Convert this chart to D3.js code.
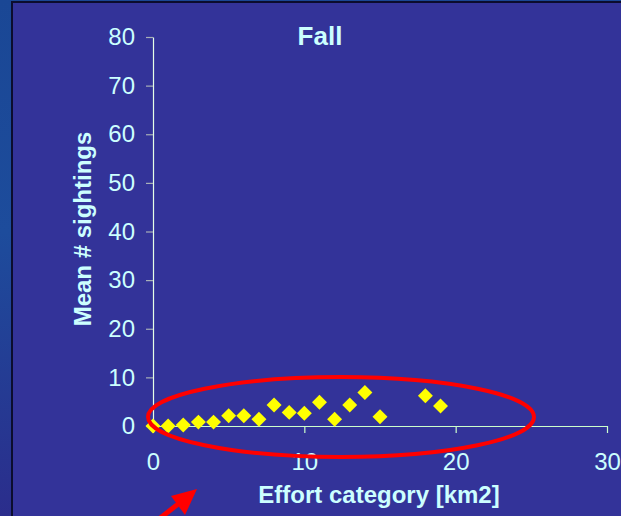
<!DOCTYPE html>
<html>
<head>
<meta charset="utf-8">
<script src="https://cdn.jsdelivr.net/npm/d3@7"></script>
<style>
  body { margin: 0; background: #1a4795; }
  svg { display: block; font-family: Arial, "Liberation Sans", sans-serif; }
</style>
</head>
<body>
<svg width="621" height="516"></svg>
<script>
// effort category (km2) and mean sightings, fall
var effort = [0, 1, 2, 3, 4, 5, 6, 7, 8, 9, 10, 11, 12, 13, 14, 15, 18, 19];
var meanSightings = [0, 0, 0.2, 0.8, 0.8, 2.1, 2.1, 1.4, 4.3, 2.8, 2.6, 4.9, 1.4, 4.3, 6.9, 1.9, 6.2, 4.1];
var xTicks = [0, 10, 20, 30];
var yTicks = [0, 10, 20, 30, 40, 50, 60, 70, 80];

var svg = d3.select("svg");
var labelColor = "#ccffff";

// background strip + panel
var defs = svg.append("defs");
var grad = defs.append("linearGradient")
    .attr("id", "bg")
    .attr("x1", 0).attr("y1", 0).attr("x2", 0).attr("y2", 1);
grad.append("stop").attr("offset", "0%").attr("stop-color", "#1a4795");
grad.append("stop").attr("offset", "45%").attr("stop-color", "#1d4c9c");
grad.append("stop").attr("offset", "100%").attr("stop-color", "#2b2d8c");

svg.append("rect")
    .attr("width", 621).attr("height", 516)
    .attr("fill", "url(#bg)");

svg.append("rect")
    .attr("x", 12).attr("y", 2)
    .attr("width", 620).attr("height", 530)
    .attr("fill", "#333399")
    .attr("stroke", "#0b0d2e")
    .attr("stroke-width", 2);

var x = d3.scaleLinear().domain([0, 30]).range([153, 607]);
var y = d3.scaleLinear().domain([0, 80]).range([426, 37]);

// x axis
var xAxis = svg.append("g")
    .attr("transform", "translate(0," + y(0) + ")")
    .call(d3.axisBottom(x).tickValues(xTicks).tickSize(7).tickSizeOuter(0).tickPadding(20));

// y axis
var yAxis = svg.append("g")
    .attr("transform", "translate(" + x(0) + ",0)")
    .call(d3.axisLeft(y).tickValues(yTicks).tickSize(7).tickSizeOuter(0).tickPadding(11));

xAxis.select(".domain").attr("stroke", "#ccffcc").attr("stroke-width", 1.2);
yAxis.select(".domain").attr("stroke", "#e6ffe6").attr("stroke-width", 1.2);
xAxis.selectAll(".tick line").attr("stroke", "#ccffcc").attr("stroke-width", 1.2);
yAxis.selectAll(".tick line").attr("stroke", "#a8b0b8").attr("stroke-width", 1.2);

svg.selectAll(".tick text")
    .attr("fill", labelColor)
    .style("font-size", "24px")
    .style("font-family", "Arial, 'Liberation Sans', sans-serif");

// points
svg.append("g")
    .selectAll("path")
    .data(effort)
    .enter().append("path")
    .attr("d", d3.symbol(d3.symbolSquare, 112))
    .attr("transform", function(d, i) {
        return "translate(" + x(d) + "," + y(meanSightings[i]) + ") rotate(45)";
    })
    .attr("fill", "#ffff00");

// title and axis labels
svg.append("text")
    .attr("x", 320).attr("y", 45)
    .attr("text-anchor", "middle")
    .attr("fill", labelColor)
    .style("font-size", "26px")
    .style("font-weight", "bold")
    .text("Fall");

svg.append("text")
    .attr("x", 379).attr("y", 503)
    .attr("text-anchor", "middle")
    .attr("fill", labelColor)
    .style("font-size", "24px")
    .style("font-weight", "bold")
    .text("Effort category [km2]");

svg.append("text")
    .attr("transform", "translate(91,229) rotate(-90)")
    .attr("text-anchor", "middle")
    .attr("fill", labelColor)
    .style("font-size", "24px")
    .style("font-weight", "bold")
    .text("Mean # sightings");

// red annotation: ellipse + arrow
svg.append("ellipse")
    .attr("cx", 341).attr("cy", 417)
    .attr("rx", 193).attr("ry", 40)
    .attr("fill", "none")
    .attr("stroke", "#ff0000")
    .attr("stroke-width", 4);

svg.append("line")
    .attr("x1", 150).attr("y1", 526)
    .attr("x2", 182).attr("y2", 501)
    .attr("stroke", "#ff0000")
    .attr("stroke-width", 5);

svg.append("polygon")
    .attr("points", "197,489 171,496 185,515")
    .attr("fill", "#ff0000");
</script>
</body>
</html>
